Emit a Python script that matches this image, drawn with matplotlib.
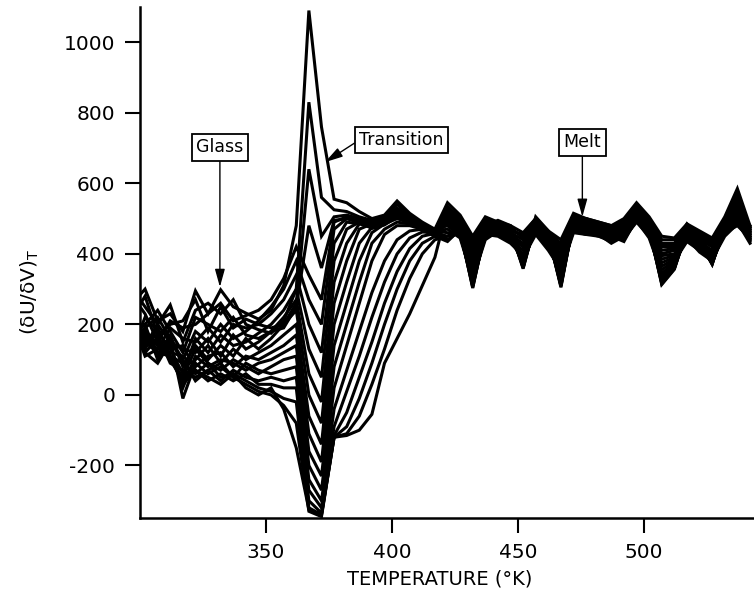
import matplotlib
matplotlib.use("Agg")
import matplotlib.pyplot as plt

plt.rcParams['font.family'] = ['DejaVu Sans']
plt.rcParams['axes.unicode_minus'] = False

# Temperature grid (K)
temps = [297, 302, 307, 312, 317, 322, 327, 332, 337, 342, 347, 352, 357,
         362, 367, 372, 377, 382, 387, 392, 397, 402, 407, 412, 417,
         422, 427, 432, 437, 442, 447, 452, 457, 462, 467, 472, 477, 482,
         487, 492, 497, 502, 507, 512, 517, 522, 527, 532, 537, 542]

# (dU/dV)_T curves
c00 = [260, 300, 210, 230, 180, 295, 230, 298, 250, 232, 215, 240, 310,
       480, 1090, 760, 555, 545, 520, 500, 510, 550, 515, 490, 470,
       545, 510, 450, 505, 490, 480, 460, 500, 465, 440, 515, 500, 490, 480, 500, 545, 505, 450, 445, 485, 465, 445, 505, 585, 480]
c01 = [300, 250, 200, 255, 150, 240, 260, 230, 270, 200, 185, 175, 210,
       300, 830, 560, 525, 520, 505, 495, 505, 540, 510, 485, 465,
       535, 500, 440, 495, 485, 470, 450, 495, 460, 430, 505, 495, 485, 470, 490, 540, 500, 440, 440, 480, 460, 440, 500, 575, 470]
c02 = [220, 280, 170, 200, 210, 270, 180, 250, 190, 215, 200, 190, 200,
       260, 640, 450, 505, 510, 500, 490, 500, 530, 505, 480, 460,
       530, 505, 430, 500, 480, 475, 445, 490, 455, 420, 510, 490, 480, 475, 495, 535, 495, 430, 430, 475, 455, 430, 495, 560, 475]
c03 = [180, 200, 240, 180, 120, 220, 200, 180, 220, 170, 160, 180, 190,
       250, 480, 360, 495, 500, 495, 485, 495, 525, 500, 478, 458,
       525, 495, 420, 490, 490, 465, 455, 500, 450, 425, 500, 500, 475, 465, 485, 530, 490, 425, 425, 470, 450, 435, 490, 550, 465]
c04 = [280, 230, 150, 210, 190, 200, 230, 260, 210, 225, 240, 270, 330,
       420, 340, 270, 490, 505, 490, 480, 490, 520, 498, 475, 462,
       520, 490, 445, 485, 475, 460, 440, 485, 445, 415, 495, 485, 470, 460, 480, 525, 485, 420, 420, 485, 445, 425, 485, 540, 460]
c05 = [150, 190, 220, 160, 100, 180, 150, 200, 160, 180, 210, 250, 300,
       380, 270, 200, 470, 500, 488, 478, 488, 515, 495, 472, 455,
       515, 485, 410, 480, 470, 455, 430, 480, 440, 410, 490, 480, 480, 455, 475, 520, 480, 410, 415, 465, 440, 420, 480, 530, 455]
c06 = [200, 160, 130, 190, 160, 150, 190, 150, 200, 190, 200, 230, 270,
       340, 200, 120, 430, 490, 485, 475, 485, 510, 492, 470, 452,
       510, 480, 400, 475, 480, 450, 425, 490, 435, 400, 485, 475, 465, 450, 470, 515, 475, 400, 410, 460, 435, 410, 475, 520, 450]
c07 = [130, 220, 180, 130, 60, 160, 120, 170, 140, 150, 175, 200, 240,
       300, 130, 50, 380, 470, 490, 472, 482, 505, 490, 468, 450,
       505, 475, 390, 470, 465, 445, 420, 475, 430, 395, 480, 470, 460, 445, 465, 510, 470, 395, 400, 455, 430, 405, 470, 510, 445]
c08 = [240, 140, 200, 150, 130, 120, 160, 110, 170, 130, 150, 180, 220,
       270, 60, -20, 320, 430, 485, 490, 495, 525, 500, 480, 465,
       500, 470, 380, 465, 460, 440, 410, 470, 425, 385, 475, 465, 455, 440, 460, 505, 465, 385, 395, 450, 425, 400, 465, 500, 440]
c09 = [160, 170, 110, 170, 80, 140, 100, 140, 110, 160, 130, 160, 200,
       240, 0, -80, 260, 380, 470, 485, 495, 515, 495, 478, 462,
       495, 465, 370, 460, 455, 435, 400, 465, 420, 375, 470, 460, 450, 435, 455, 500, 460, 375, 390, 445, 420, 395, 460, 495, 435]
c10 = [190, 120, 160, 100, 40, 100, 140, 90, 130, 100, 120, 140, 170,
       200, -60, -140, 200, 320, 430, 475, 490, 505, 490, 475, 465,
       490, 460, 360, 455, 450, 430, 395, 460, 415, 365, 465, 455, 455, 430, 450, 495, 455, 365, 385, 440, 415, 390, 455, 490, 430]
c11 = [120, 180, 140, 120, 110, 80, 110, 120, 80, 110, 100, 120, 140,
       170, -110, -190, 140, 260, 380, 460, 485, 500, 488, 475, 465,
       485, 455, 350, 450, 455, 445, 390, 455, 410, 355, 460, 455, 450, 440, 445, 490, 450, 355, 380, 435, 410, 385, 450, 485, 440]
c12 = [270, 150, 120, 140, 20, 110, 80, 100, 90, 70, 90, 100, 120,
       140, -160, -230, 80, 200, 320, 430, 470, 490, 485, 472, 468,
       480, 450, 340, 445, 460, 440, 380, 470, 420, 345, 470, 460, 460, 445, 440, 495, 445, 345, 375, 445, 405, 380, 460, 480, 445]
c13 = [140, 130, 190, 110, 90, 60, 90, 70, 100, 80, 60, 80, 100,
       110, -200, -270, 20, 140, 260, 380, 455, 480, 480, 470, 465,
       470, 445, 330, 440, 465, 450, 375, 475, 430, 335, 475, 470, 465, 450, 435, 500, 455, 340, 370, 450, 420, 375, 465, 490, 450]
c14 = [170, 200, 100, 160, -10, 90, 60, 80, 50, 90, 70, 60, 70,
       80, -240, -300, -40, 70, 180, 290, 380, 440, 465, 470, 465,
       460, 455, 320, 450, 470, 455, 370, 480, 440, 325, 480, 475, 470, 455, 445, 505, 460, 330, 365, 455, 425, 375, 470, 500, 455]
c15 = [130, 150, 170, 90, 70, 50, 70, 40, 70, 50, 40, 50, 40,
       50, -270, -320, -90, 10, 110, 220, 320, 400, 445, 462, 460,
       450, 460, 310, 460, 475, 460, 365, 485, 445, 315, 485, 480, 470, 460, 450, 510, 465, 320, 360, 460, 430, 372, 475, 505, 460]
c16 = [210, 110, 130, 130, 140, 70, 40, 60, 40, 60, 30, 30, 20,
       20, -300, -335, -115, -50, 50, 150, 260, 350, 415, 450, 458,
       440, 465, 305, 465, 480, 465, 360, 490, 450, 310, 490, 485, 475, 465, 455, 515, 470, 315, 358, 465, 435, 370, 480, 510, 465]
c17 = [110, 170, 150, 100, 50, 130, 90, 50, 60, 40, 20, 10, -10,
       -20, -320, -340, -120, -90, -10, 90, 200, 300, 380, 430, 450,
       435, 470, 303, 470, 485, 470, 358, 495, 455, 305, 495, 490, 480, 470, 460, 520, 475, 313, 356, 470, 440, 371, 485, 515, 470]
c18 = [230, 120, 90, 150, 100, 40, 70, 90, 50, 30, 10, 0, -30,
       -80, -330, -345, -120, -110, -60, 30, 130, 240, 330, 400, 440,
       450, 475, 310, 475, 490, 475, 362, 500, 460, 308, 500, 495, 485, 475, 465, 525, 480, 318, 360, 475, 445, 375, 490, 520, 475]
c19 = [150, 190, 120, 110, 30, 70, 50, 30, 60, 20, 0, 20, -40,
       -150, -325, -340, -120, -115, -100, -55, 90, 160, 230, 310, 390,
       530, 480, 320, 480, 495, 480, 370, 505, 465, 315, 505, 500, 490, 480, 470, 530, 485, 325, 365, 480, 450, 380, 495, 525, 480]

curves = [c00, c01, c02, c03, c04, c05, c06, c07, c08, c09,
          c10, c11, c12, c13, c14, c15, c16, c17, c18, c19]

xticks = [350, 400, 450, 500]
yticks = [-200, 0, 200, 400, 600, 800, 1000]

fig = plt.figure(figsize=(7.54, 5.94), dpi=100)
ax = fig.add_axes([140/754, (594-518)/594, 614/754, 511/594])

for c in curves:
    ax.plot(temps, c, color='black', lw=2.2, solid_joinstyle='miter')

ax.set_xlim(300, 543.6)
ax.set_ylim(-349, 1100)
ax.set_xticks(xticks)
ax.set_yticks(yticks)
ax.spines['top'].set_visible(False)
ax.spines['right'].set_visible(False)
for s in ('left', 'bottom'):
    ax.spines[s].set_linewidth(1.8)
ax.tick_params(axis='both', direction='out', length=11, width=1.5,
               labelsize=14.5, colors='black')
ax.tick_params(axis='y', pad=7)
ax.tick_params(axis='x', pad=7)

fig.text(30/754, 1 - 292/594, '(δU/δV)$_{\\mathregular{T}}$', rotation=90,
         ha='center', va='center', fontsize=14.5)
fig.text(440/754, 1 - 579/594, 'TEMPERATURE (°K)', ha='center', va='center',
         fontsize=14)

box = dict(boxstyle='square,pad=0.25', fc='white', ec='black', lw=1.3)
arrow = dict(arrowstyle='-|>,head_length=0.9,head_width=0.25', color='black',
             lw=1.0, mutation_scale=12, shrinkA=0, shrinkB=0)

ax.annotate('Glass', xy=(331.7, 306), xytext=(331.7, 702), ha='center', va='center',
            fontsize=12.5, bbox=box, arrowprops=arrow)
ax.annotate('Transition', xy=(373.4, 660), xytext=(403.8, 723), ha='center', va='center',
            fontsize=12.5, bbox=box, arrowprops=dict(arrow, relpos=(0, 0.5)))
ax.annotate('Melt', xy=(475.5, 505), xytext=(475.5, 716), ha='center', va='center',
            fontsize=12.5, bbox=box, arrowprops=arrow)

fig.savefig('out.png', dpi=100)
